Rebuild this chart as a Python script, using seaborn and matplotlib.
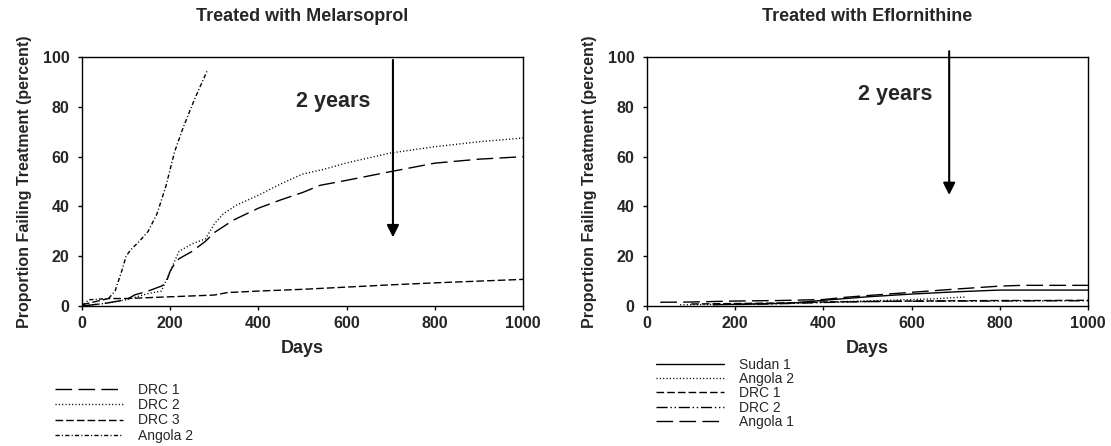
import matplotlib
matplotlib.use("Agg")
import matplotlib.pyplot as plt
import seaborn as sns

sns.set_theme(style="ticks")
plt.rcParams['font.family'] = ['Liberation Sans', 'DejaVu Sans']

# Melarsoprol
mel_drc1_days = [0, 50, 100, 120, 150, 180, 190, 200, 210, 220, 250, 280, 300, 343, 400, 450, 500, 540, 600, 700, 800, 900, 1000]
mel_drc1 = [0, 1, 2.5, 4.5, 6, 8, 9, 14, 17, 19, 22, 26, 29.5, 34.5, 39.3, 42.6, 45.6, 48.5, 50.5, 54, 57.4, 59, 60]
mel_drc2_days = [0, 50, 100, 150, 180, 200, 220, 250, 280, 300, 320, 350, 400, 450, 500, 550, 600, 650, 700, 800, 900, 1000]
mel_drc2 = [0, 1, 2.5, 5, 6, 14, 22, 25, 27, 33, 37, 40.5, 44.5, 49, 53, 55, 57.5, 59.5, 61.5, 64, 66, 67.5]
mel_drc3_days = [0, 60, 100, 200, 300, 330, 400, 500, 600, 700, 800, 900, 1000]
mel_drc3 = [0.5, 3, 3, 3.7, 4.4, 5.4, 6, 6.7, 7.6, 8.5, 9.3, 10, 10.7]
mel_ang2_days = [0, 15, 60, 75, 90, 100, 110, 130, 150, 170, 190, 200, 210, 230, 255, 285]
mel_ang2 = [0, 2.5, 3, 6, 14, 20, 22.5, 26, 30, 37, 48, 55, 62, 72, 83, 95]

# Eflornithine
efl_sudan1_days = [150, 250, 330, 400, 450, 500, 600, 700, 800, 900, 1000]
efl_sudan1 = [0.5, 0.8, 1.2, 2.3, 3.0, 3.7, 4.8, 5.7, 6.4, 6.4, 6.4]
efl_ang2_days = [75, 150, 250, 350, 450, 550, 650, 720]
efl_ang2 = [0.5, 0.6, 0.9, 1.3, 1.8, 2.3, 2.9, 3.6]
efl_drc1_days = [100, 200, 300, 400, 500, 600, 700, 800, 900, 1000]
efl_drc1 = [0.8, 1.0, 1.2, 1.6, 1.8, 2.0, 2.1, 2.2, 2.2, 2.3]
efl_drc2_days = [200, 300, 400, 500, 600, 700, 800, 900, 1000]
efl_drc2 = [0.6, 0.9, 1.4, 1.8, 1.9, 2.0, 2.0, 2.1, 2.1]
efl_ang1_days = [30, 100, 200, 300, 400, 450, 500, 600, 700, 800, 850, 1000]
efl_ang1 = [1.5, 1.6, 2.0, 2.2, 2.6, 3.5, 4.2, 5.5, 6.8, 8.0, 8.3, 8.3]

long_dash = (0, (12, 4.5))
short_dash = (0, (5.5, 2.2))
dots = (0, (0.8, 1.6))
dash_dot = (0, (3, 1.6, 0.8, 1.6))
dash_dot_dot = (0, (8, 2, 1, 2, 1, 2))

fig = plt.figure(figsize=(11.11, 4.46), dpi=100)
ax1 = fig.add_axes([0.0738, 0.3139, 0.397, 0.558])
ax2 = fig.add_axes([0.5824, 0.3139, 0.397, 0.558])

sns.lineplot(x=mel_drc1_days, y=mel_drc1, ax=ax1, color='black', linewidth=1, linestyle=long_dash, label='DRC 1')
sns.lineplot(x=mel_drc2_days, y=mel_drc2, ax=ax1, color='black', linewidth=1, linestyle=dots, label='DRC 2')
sns.lineplot(x=mel_drc3_days, y=mel_drc3, ax=ax1, color='black', linewidth=1, linestyle=short_dash, label='DRC 3')
sns.lineplot(x=mel_ang2_days, y=mel_ang2, ax=ax1, color='black', linewidth=1, linestyle=dash_dot, label='Angola 2')

sns.lineplot(x=efl_sudan1_days, y=efl_sudan1, ax=ax2, color='black', linewidth=1, linestyle='-', label='Sudan 1')
sns.lineplot(x=efl_ang2_days, y=efl_ang2, ax=ax2, color='black', linewidth=1, linestyle=dots, label='Angola 2')
sns.lineplot(x=efl_drc1_days, y=efl_drc1, ax=ax2, color='black', linewidth=1, linestyle=short_dash, label='DRC 1')
sns.lineplot(x=efl_drc2_days, y=efl_drc2, ax=ax2, color='black', linewidth=1, linestyle=dash_dot_dot, label='DRC 2')
sns.lineplot(x=efl_ang1_days, y=efl_ang1, ax=ax2, color='black', linewidth=1, linestyle=long_dash, label='Angola 1')

titles = ['Treated with Melarsoprol', 'Treated with Eflornithine']
for ax, title in zip([ax1, ax2], titles):
    ax.set_xlim(0, 1000)
    ax.set_ylim(0, 100)
    ax.set_xticks([0, 200, 400, 600, 800, 1000])
    ax.set_yticks([0, 20, 40, 60, 80, 100])
    ax.tick_params(length=3, width=1, color='black', labelsize=11.5, pad=4)
    ax.tick_params(axis='y', pad=6)
    for lab in ax.get_xticklabels() + ax.get_yticklabels():
        lab.set_fontweight('bold')
    for sp in ax.spines.values():
        sp.set_visible(True)
        sp.set_color('black')
        sp.set_linewidth(1)
    ax.set_xlabel('Days', fontsize=13, fontweight='bold', labelpad=7)
    ax.set_ylabel('Proportion Failing Treatment (percent)', fontsize=11.5, fontweight='bold', labelpad=8)
    ax.set_title(title, fontsize=13, fontweight='bold', pad=26)
    ax.grid(False)

# 2 year markers
ax1.annotate('', xy=(705, 26.5), xytext=(705, 100),
             arrowprops=dict(arrowstyle='-|>,head_width=0.3,head_length=0.6', color='black', lw=1.5))
ax1.text(569, 82, '2 years', fontsize=15.5, fontweight='bold', ha='center', va='center')
ax2.annotate('', xy=(685, 43.5), xytext=(685, 103.5), annotation_clip=False,
             arrowprops=dict(arrowstyle='-|>,head_width=0.3,head_length=0.6', color='black', lw=1.5))
ax2.text(562, 85, '2 years', fontsize=15.5, fontweight='bold', ha='center', va='center')

ax1.legend(loc='upper left', bbox_to_anchor=(0.0495, 0.142), bbox_transform=fig.transFigure,
           frameon=False, fontsize=10, handlelength=4.9, handletextpad=1.1,
           labelspacing=0.1, borderpad=0, borderaxespad=0)
ax2.legend(loc='upper left', bbox_to_anchor=(0.5905, 0.198), bbox_transform=fig.transFigure,
           frameon=False, fontsize=10, handlelength=4.9, handletextpad=1.1,
           labelspacing=0.02, borderpad=0, borderaxespad=0)

fig.savefig('out.png', dpi=100, facecolor='white')
